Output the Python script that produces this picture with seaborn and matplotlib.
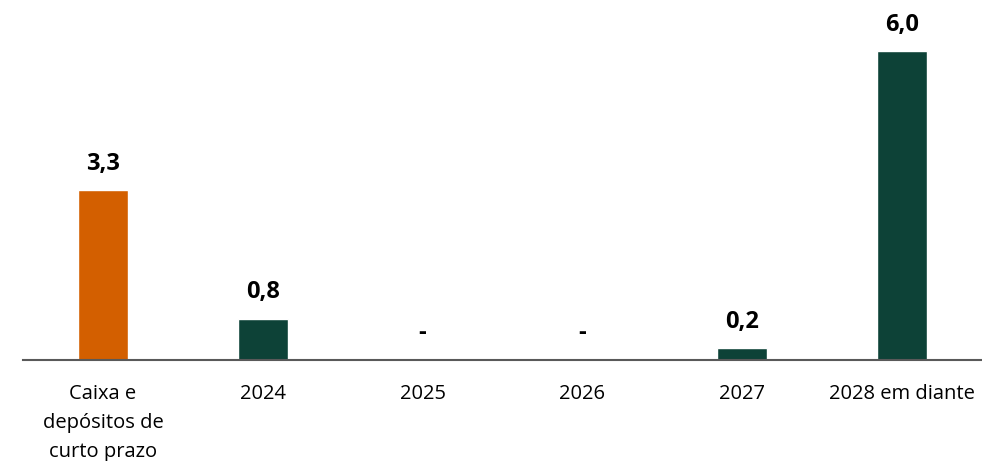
import matplotlib
matplotlib.use("Agg")
import matplotlib.pyplot as plt
import seaborn as sns
import pandas as pd

categories = ["Caixa e\ndepósitos de\ncurto prazo", "2024", "2025", "2026", "2027", "2028 em diante"]
values = [3.3, 0.8, 0.0, 0.0, 0.23, 6.0]
labels = ["3,3", "0,8", "-", "-", "0,2", "6,0"]
colors = ["#D35F00", "#0D4237", "#0D4237", "#0D4237", "#0D4237", "#0D4237"]

sns.set_theme(style="white")
plt.rcParams["font.family"] = ["Open Sans", "DejaVu Sans"]

df = pd.DataFrame({"cat": categories, "val": values})

fig = plt.figure(figsize=(9.82, 4.61), dpi=100)
ax = fig.add_axes([23 / 982, 101 / 461, 959 / 982, 360 / 461])
sns.barplot(data=df, x="cat", y="val", hue="cat", palette=colors, legend=False,
            width=0.3125, saturation=1, ax=ax)

ax.set_xlim(-0.5, 5.5)
ax.set_ylim(0, 7.0)
for i, (v, lab) in enumerate(zip(values, labels)):
    ax.annotate(lab, xy=(i, v), xytext=(0, 10.5), textcoords="offset points",
                ha="center", va="bottom", fontsize=17, fontweight="bold", color="black")

ax.set_xlabel("")
ax.set_ylabel("")
ax.set_yticks([])
for s in ["top", "right", "left"]:
    ax.spines[s].set_visible(False)
ax.spines["bottom"].set_color("#595959")
ax.spines["bottom"].set_linewidth(1.5)
ax.tick_params(axis="x", length=0, pad=17.5, labelsize=14.5, colors="black")
for t in ax.get_xticklabels():
    t.set_linespacing(1.6)

fig.savefig("out.png", dpi=100)
